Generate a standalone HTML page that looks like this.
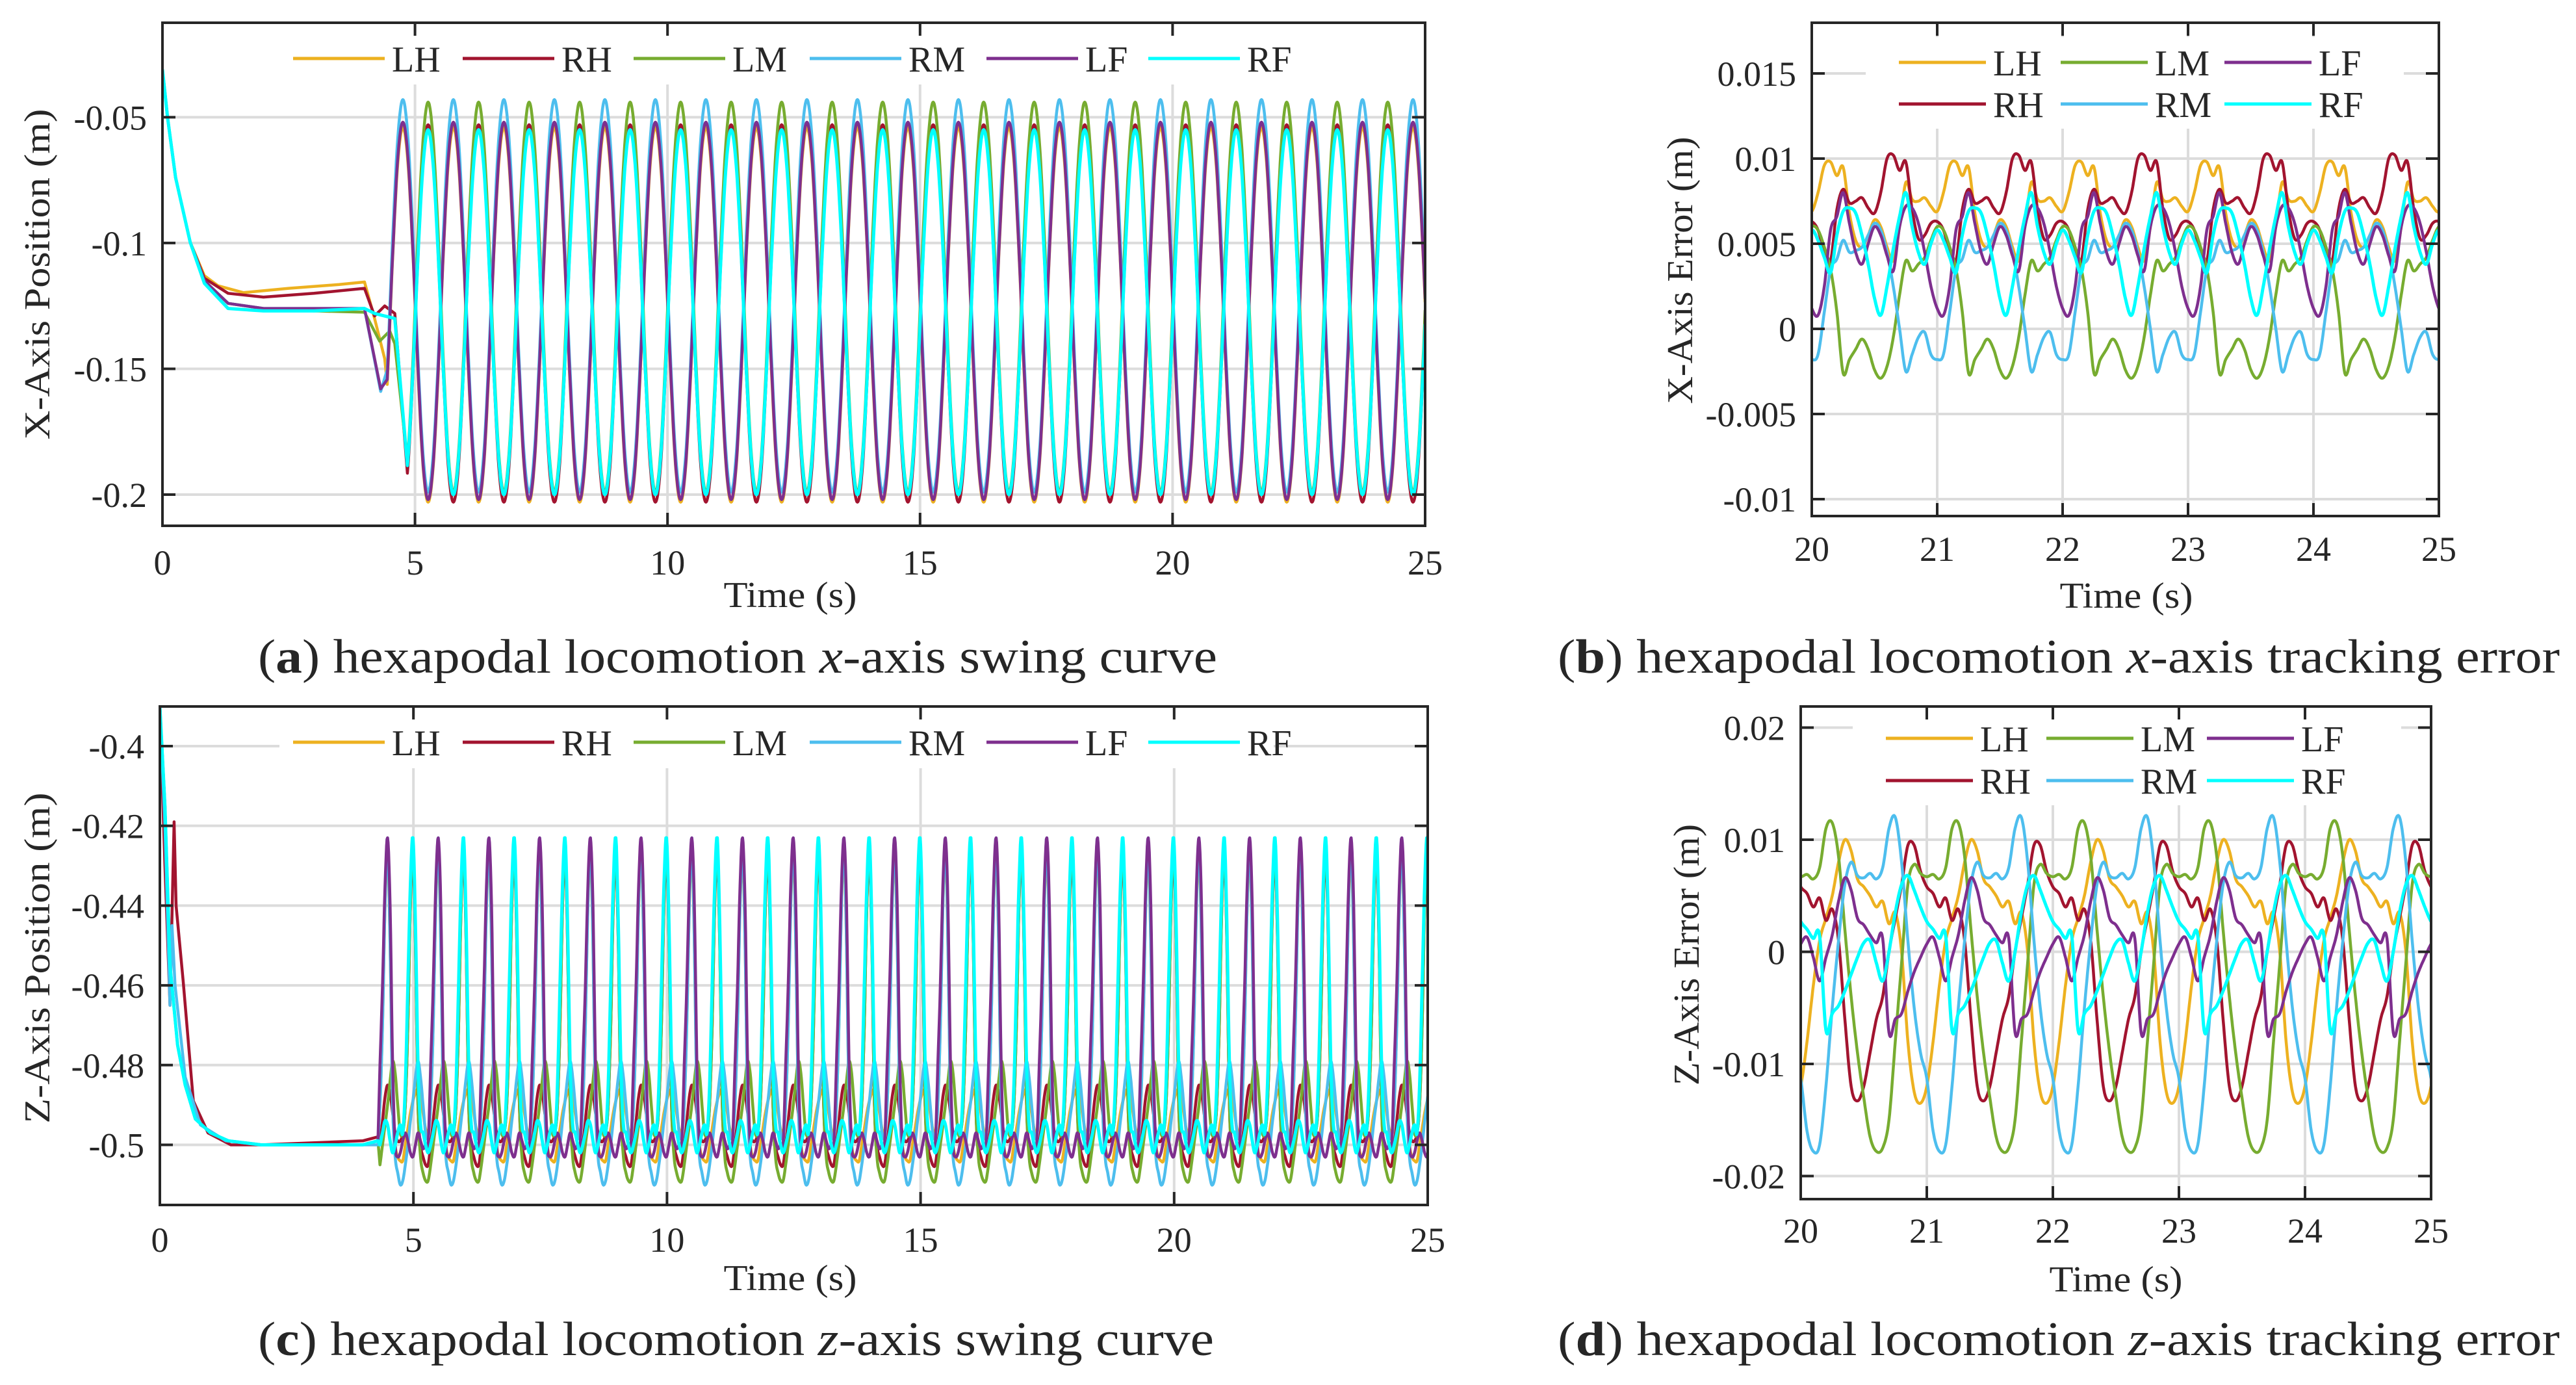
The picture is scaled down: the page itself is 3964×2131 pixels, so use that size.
<!DOCTYPE html>
<html><head><meta charset="utf-8"><title>Hexapod swing curves</title>
<style>html,body{margin:0;padding:0;background:#fff}svg{display:block}text{font-family:"Liberation Serif",serif;fill:#262626}</style>
</head><body>
<svg id="fig" xmlns="http://www.w3.org/2000/svg" width="3964" height="2131" viewBox="0 0 3964 2131">
<rect x="0" y="0" width="3964" height="2131" fill="#fff"/>
<text x="397" y="1035" font-size="74" textLength="1476" lengthAdjust="spacingAndGlyphs">(<tspan font-weight="bold">a</tspan>) hexapodal locomotion <tspan font-style="italic">x</tspan>-axis swing curve</text>
<text x="2397" y="1035" font-size="74" textLength="1542" lengthAdjust="spacingAndGlyphs">(<tspan font-weight="bold">b</tspan>) hexapodal locomotion <tspan font-style="italic">x</tspan>-axis tracking error</text>
<text x="397" y="2085" font-size="74" textLength="1471" lengthAdjust="spacingAndGlyphs">(<tspan font-weight="bold">c</tspan>) hexapodal locomotion <tspan font-style="italic">z</tspan>-axis swing curve</text>
<text x="2397" y="2085" font-size="74" textLength="1542" lengthAdjust="spacingAndGlyphs">(<tspan font-weight="bold">d</tspan>) hexapodal locomotion <tspan font-style="italic">z</tspan>-axis tracking error</text>
</svg>
<script>
// ---------- data ----------
const legs = ['LH','RH','LM','RM','LF','RF'];
const colors = ['#EDB120','#A2142F','#77AC30','#4DBEEE','#7E2F8E','#00FFFF'];

// Panel a: x position. transients [t,v], then periodic cycle (10 samples / 1 s, sample 0 = peak)
const aTickX = [0,5,10,15,20,25];
const aTickY = [-0.05,-0.1,-0.15,-0.2];
const aTickYLabels = ['-0.05','-0.1','-0.15','-0.2'];
const aPeakTime = [0.76,0.26,0.26,0.76,0.76,0.26];
const aStart = [4.45,4.85,4.85,4.45,4.45,4.85];
const aTransLH = [[0,-0.031],[0.1,-0.05],[0.26,-0.074],[0.55,-0.0997],[0.83,-0.113],[1.1,-0.117],[1.6,-0.1197],[2.5,-0.118],[3.5,-0.1165],[4.0,-0.1155],[4.2,-0.13],[4.4,-0.146]];
const aTransRH = [[0,-0.031],[0.1,-0.05],[0.26,-0.074],[0.55,-0.0997],[0.83,-0.114],[1.3,-0.12],[2.0,-0.1215],[3.0,-0.12],[4.0,-0.118],[4.2,-0.129],[4.4,-0.125],[4.6,-0.128]];
const aTransLM = [[0,-0.031],[0.1,-0.05],[0.26,-0.074],[0.55,-0.0997],[0.83,-0.115],[1.3,-0.124],[2.0,-0.126],[3.0,-0.127],[4.0,-0.1275],[4.3,-0.139],[4.5,-0.135],[4.6,-0.14]];
const aTransRM = [[0,-0.031],[0.1,-0.05],[0.26,-0.074],[0.55,-0.0997],[0.83,-0.115],[1.3,-0.124],[2.0,-0.126],[3.0,-0.126],[4.0,-0.126],[4.32,-0.159]];
const aTransLF = [[0,-0.031],[0.1,-0.05],[0.26,-0.074],[0.55,-0.0997],[0.83,-0.115],[1.3,-0.124],[2.0,-0.126],[3.0,-0.126],[4.0,-0.126],[4.32,-0.158]];
const aTransRF = [[0,-0.031],[0.1,-0.05],[0.26,-0.074],[0.55,-0.0997],[0.83,-0.116],[1.3,-0.126],[2.0,-0.127],[3.0,-0.127],[4.0,-0.126],[4.2,-0.128],[4.4,-0.129],[4.6,-0.13]];
const aCycLH = [-0.054,-0.068,-0.105,-0.152,-0.189,-0.203,-0.189,-0.152,-0.105,-0.068];
const aCycRH = [-0.053,-0.067,-0.105,-0.151,-0.189,-0.203,-0.189,-0.151,-0.105,-0.067];
const aCycLM = [-0.044,-0.059,-0.097,-0.146,-0.184,-0.199,-0.184,-0.146,-0.097,-0.059];
const aCycRM = [-0.043,-0.058,-0.097,-0.146,-0.184,-0.199,-0.184,-0.146,-0.097,-0.058];
const aCycLF = [-0.052,-0.066,-0.104,-0.150,-0.188,-0.202,-0.188,-0.150,-0.104,-0.066];
const aCycRF = [-0.055,-0.069,-0.105,-0.150,-0.186,-0.200,-0.186,-0.150,-0.105,-0.069];

// Panel b: x error, one-period cycles (20 samples / 1 s from t=20)
const bTickX = [20,21,22,23,24,25];
const bTickY = [0.015,0.01,0.005,0,-0.005,-0.01];
const bTickYLabels = ['0.015','0.01','0.005','0','-0.005','-0.01'];
const bCycLH = [0.0069,0.0080,0.0096,0.0098,0.0090,0.0095,0.0068,0.0052,0.0048,0.0055,0.0064,0.0060,0.0048,0.0040,0.0060,0.0086,0.0076,0.0075,0.0077,0.0072];
const bCycRH = [0.0063,0.0058,0.0045,0.0040,0.0070,0.0082,0.0074,0.0075,0.0077,0.0071,0.0068,0.0080,0.0100,0.0102,0.0093,0.0098,0.0070,0.0053,0.0055,0.0062];
const bCycLM = [0.0060,0.0058,0.0048,0.0035,0.0010,-0.0026,-0.0018,-0.0012,-0.0006,-0.0012,-0.0024,-0.0029,-0.0022,-0.0005,0.0020,0.0040,0.0034,0.0038,0.0042,0.0052];
const bCycRM = [-0.0018,-0.0015,0.0010,0.0035,0.0041,0.0052,0.0045,0.0046,0.0048,0.0055,0.0062,0.0058,0.0045,0.0025,0.0000,-0.0025,-0.0015,-0.0005,-0.0002,-0.0015];
const bCycLF = [0.0012,0.0008,0.0025,0.0058,0.0066,0.0080,0.0062,0.0045,0.0038,0.0050,0.0060,0.0055,0.0043,0.0034,0.0060,0.0072,0.0071,0.0062,0.0045,0.0025];
const bCycRF = [0.0058,0.0052,0.0042,0.0033,0.0055,0.0069,0.0071,0.0068,0.0055,0.0038,0.0018,0.0008,0.0025,0.0047,0.0066,0.0080,0.0060,0.0045,0.0038,0.0050];

// Panel c: z position
const cTickX = [0,5,10,15,20,25];
const cTickY = [-0.4,-0.42,-0.44,-0.46,-0.48,-0.5];
const cTickYLabels = ['-0.4','-0.42','-0.44','-0.46','-0.48','-0.5'];
const cPeakTime = [0.49,0.99,0.99,0.49,0.49,0.99];
const cStart = [4.34,4.34,4.34,4.34,4.34,4.34];
const cTransCommon = [[0,-0.39],[0.1,-0.415],[0.2,-0.455],[0.35,-0.475],[0.5,-0.485],[0.7,-0.4935],[1.0,-0.497],[1.35,-0.499],[2,-0.5],[4,-0.5],[4.3,-0.499]];
const cTransRH = [[0,-0.39],[0.1,-0.43],[0.2,-0.465],[0.28,-0.419],[0.32,-0.44],[0.46,-0.459],[0.66,-0.489],[0.95,-0.497],[1.4,-0.5],[2,-0.5],[4,-0.499],[4.3,-0.498]];
const cTransRM = [[0,-0.39],[0.1,-0.42],[0.2,-0.465],[0.24,-0.445],[0.3,-0.46],[0.5,-0.483],[0.8,-0.495],[1.3,-0.499],[2,-0.5],[4,-0.5],[4.3,-0.5]];
const cCycLH = [-0.427,-0.45,-0.49,-0.500,-0.503,-0.504,-0.504,-0.500,-0.496,-0.492,-0.489,-0.487,-0.486,-0.488,-0.492,-0.496,-0.497,-0.49,-0.47,-0.44];
const cCycRH = [-0.427,-0.45,-0.49,-0.500,-0.503,-0.505,-0.505,-0.500,-0.494,-0.488,-0.485,-0.487,-0.492,-0.497,-0.499,-0.499,-0.497,-0.49,-0.47,-0.44];
const cCycLM = [-0.423,-0.45,-0.49,-0.503,-0.507,-0.509,-0.509,-0.505,-0.500,-0.495,-0.490,-0.484,-0.479,-0.482,-0.490,-0.497,-0.497,-0.49,-0.47,-0.44];
const cCycRM = [-0.423,-0.45,-0.49,-0.503,-0.507,-0.510,-0.509,-0.505,-0.500,-0.494,-0.489,-0.483,-0.479,-0.483,-0.490,-0.497,-0.498,-0.49,-0.47,-0.44];
const cCycLF = [-0.423,-0.44,-0.48,-0.500,-0.503,-0.502,-0.499,-0.497,-0.499,-0.502,-0.503,-0.500,-0.497,-0.499,-0.501,-0.500,-0.500,-0.48,-0.46,-0.435];
const cCycRF = [-0.423,-0.445,-0.48,-0.495,-0.497,-0.500,-0.502,-0.500,-0.497,-0.494,-0.495,-0.499,-0.502,-0.500,-0.497,-0.495,-0.497,-0.485,-0.46,-0.435];

// Panel d: z error cycles (20 samples / 1 s from t=20)
const dTickX = [20,21,22,23,24,25];
const dTickY = [0.02,0.01,0,-0.01,-0.02];
const dTickYLabels = ['0.02','0.01','0','-0.01','-0.02'];
const dCycLH = [-0.0120,-0.0080,-0.0030,0.0010,0.0030,0.0050,0.0080,0.0100,0.0090,0.0065,0.0058,0.0050,0.0040,0.0045,0.0025,0.0035,0.0000,-0.0080,-0.0125,-0.0135];
const dCycRH = [0.0058,0.0052,0.0040,0.0048,0.0028,0.0038,0.0010,-0.0060,-0.0120,-0.0133,-0.0120,-0.0090,-0.0060,-0.0040,0.0000,0.0030,0.0060,0.0095,0.0095,0.0072];
const dCycLM = [0.0067,0.0069,0.0065,0.0075,0.0110,0.0115,0.0085,0.0020,-0.0040,-0.0090,-0.0130,-0.0165,-0.0178,-0.0175,-0.0150,-0.0080,-0.0010,0.0060,0.0078,0.0070];
const dCycRM = [-0.0113,-0.0160,-0.0178,-0.0172,-0.0120,-0.0050,0.0010,0.0060,0.0080,0.0068,0.0066,0.0070,0.0065,0.0075,0.0110,0.0120,0.0080,0.0010,-0.0050,-0.0090];
const dCycLF = [0.0007,0.0013,-0.0005,-0.0026,-0.0005,0.0015,0.0045,0.0066,0.0055,0.0030,0.0024,0.0015,0.0008,0.0012,-0.0072,-0.0060,-0.0055,-0.0035,-0.0018,-0.0005];
const dCycRF = [0.0027,0.0020,0.0012,0.0014,-0.0070,-0.0055,-0.0048,-0.0035,-0.0020,-0.0005,0.0008,0.0010,-0.0010,-0.0026,0.0000,0.0035,0.0060,0.0068,0.0055,0.0040];

// ---------- drawing ----------
const NS = 'http://www.w3.org/2000/svg';
const svg = document.getElementById('fig');
function el(tag, attrs, parent){
  const e = document.createElementNS(NS, tag);
  for (const k in attrs) e.setAttribute(k, attrs[k]);
  (parent || svg).appendChild(e);
  return e;
}
function cyc(arr, phase){
  const n = arr.length; let f = (((phase % 1) + 1) % 1) * n;
  const i = Math.floor(f); const u = f - i;
  const p0 = arr[(i - 1 + n) % n], p1 = arr[i % n], p2 = arr[(i + 1) % n], p3 = arr[(i + 2) % n];
  return 0.5 * ((2*p1) + (-p0 + p2)*u + (2*p0 - 5*p1 + 4*p2 - p3)*u*u + (-p0 + 3*p1 - 3*p2 + p3)*u*u*u);
}

function panel(cfg){
  const g = el('g', {});
  
  
  const X = t => cfg.x0 + (t - cfg.xmin) / (cfg.xmax - cfg.xmin) * (cfg.x1 - cfg.x0);
  const Y = v => cfg.y1 - (v - cfg.ymin) / (cfg.ymax - cfg.ymin) * (cfg.y1 - cfg.y0);
  const clipId = cfg.name + '-clip';
  const cp = el('clipPath', {id: clipId}, g);
  el('rect', {x: cfg.x0, y: cfg.y0, width: cfg.x1 - cfg.x0, height: cfg.y1 - cfg.y0}, cp);
  cfg.ticksX.forEach(t => {
    const l = el('line', {x1: X(t), x2: X(t), y1: cfg.y0, y2: cfg.y1, stroke: '#dcdcdc', 'stroke-width': 4}, g);
    
    
  });
  cfg.ticksY.forEach(v => {
    const l = el('line', {x1: cfg.x0, x2: cfg.x1, y1: Y(v), y2: Y(v), stroke: '#dcdcdc', 'stroke-width': 4}, g);
    
    
  });
  const sg = el('g', {'clip-path': 'url(#' + clipId + ')'}, g);
  legs.forEach((lg, i) => {
    const pts = cfg.series(i, X, Y);
    const pl = el('polyline', {points: pts.join(' '), fill: 'none', stroke: colors[i], 'stroke-width': lg === 'RF' ? 5 : 4.5, 'stroke-linejoin': 'round'}, sg);
    
    
  });
  const lgG = el('g', {}, g);
  
  
  el('rect', {x: cfg.legBox[0], y: cfg.legBox[1], width: cfg.legBox[2], height: cfg.legBox[3], fill: '#fff'}, lgG);
  cfg.legPos.forEach((p, i) => {
    const e = el('g', {}, lgG);
    
    
    el('line', {x1: p[0], x2: p[0] + cfg.legLen, y1: p[1], y2: p[1], stroke: colors[i], 'stroke-width': 5}, e);
    const tx = el('text', {x: p[0] + cfg.legLen + 11, y: p[1] + 20, 'font-size': 56}, e);
    tx.textContent = legs[i];
  });
  const box = el('rect', {x: cfg.x0, y: cfg.y0, width: cfg.x1 - cfg.x0, height: cfg.y1 - cfg.y0, fill: 'none', stroke: '#262626', 'stroke-width': 4}, g);
  
  
  cfg.ticksX.forEach(t => {
    el('line', {x1: X(t), x2: X(t), y1: cfg.y1, y2: cfg.y1 - 20, stroke: '#262626', 'stroke-width': 4}, g);
    el('line', {x1: X(t), x2: X(t), y1: cfg.y0, y2: cfg.y0 + 20, stroke: '#262626', 'stroke-width': 4}, g);
    const tx = el('text', {x: X(t), y: cfg.xLabelY + 4, 'font-size': 54, 'text-anchor': 'middle'}, g);
    
    
    tx.textContent = String(t);
  });
  cfg.ticksY.forEach((v, k) => {
    el('line', {x1: cfg.x0, x2: cfg.x0 + 20, y1: Y(v), y2: Y(v), stroke: '#262626', 'stroke-width': 4}, g);
    el('line', {x1: cfg.x1, x2: cfg.x1 - 20, y1: Y(v), y2: Y(v), stroke: '#262626', 'stroke-width': 4}, g);
    const tx = el('text', {x: cfg.x0 - 24, y: Y(v) + 19, 'font-size': 54, 'text-anchor': 'end'}, g);
    
    
    tx.textContent = cfg.yLabels[k];
  });
  const xt = el('text', {x: cfg.xTitle[0], y: cfg.xTitle[1], 'font-size': 56, 'text-anchor': 'middle', textLength: 205, lengthAdjust: 'spacingAndGlyphs'}, g);
  
  
  xt.textContent = 'Time (s)';
  const yt = el('text', {x: 0, y: 0, 'font-size': 56, 'text-anchor': 'middle', textLength: cfg.yTitle[3], lengthAdjust: 'spacingAndGlyphs', transform: 'translate(' + cfg.yTitle[0] + ',' + cfg.yTitle[1] + ') rotate(-90)'}, g);
  
  
  yt.textContent = cfg.yTitle[2];
}

function posSeries(trans, cycle, peakT, tStart){
  return function(X, Y){
    const pts = [];
    trans.forEach(p => { if (p[0] < tStart) pts.push(X(p[0]).toFixed(1) + ',' + Y(p[1]).toFixed(1)); });
    for (let t = tStart; t <= 25.0001; t += 0.01) pts.push(X(t).toFixed(1) + ',' + Y(cyc(cycle, t - peakT)).toFixed(1));
    return pts;
  };
}
function errSeries(cycle){
  return function(X, Y){
    const pts = [];
    for (let t = 20; t <= 25.0001; t += 0.005) pts.push(X(t).toFixed(1) + ',' + Y(cyc(cycle, t - 20)).toFixed(1));
    return pts;
  };
}

const aTrans = [aTransLH, aTransRH, aTransLM, aTransRM, aTransLF, aTransRF];
const aCyc = [aCycLH, aCycRH, aCycLM, aCycRM, aCycLF, aCycRF];
const bCyc = [bCycLH, bCycRH, bCycLM, bCycRM, bCycLF, bCycRF];
const cTrans = [cTransCommon, cTransRH, cTransCommon, cTransRM, cTransCommon, cTransCommon];
const cCyc = [cCycLH, cCycRH, cCycLM, cCycRM, cCycLF, cCycRF];
const dCyc = [dCycLH, dCycRH, dCycLM, dCycRM, dCycLF, dCycRF];

const wideLeg = y => [[451,y],[712,y],[975,y],[1246,y],[1518,y],[1767,y]];

panel({name: 'panel-a-x-position', x0: 250, x1: 2193, y0: 35, y1: 809, xmin: 0, xmax: 25, ymin: -0.2124, ymax: -0.01244,
  ticksX: aTickX, ticksY: aTickY, yLabels: aTickYLabels, xLabelY: 880, xTitle: [1216, 934], yTitle: [76, 422, 'X-Axis Position (m)', 509],
  series: (i, X, Y) => posSeries(aTrans[i], aCyc[i], aPeakTime[i], aStart[i])(X, Y),
  legBox: [430, 50, 1530, 80], legPos: wideLeg(90), legLen: 141});
panel({name: 'panel-b-x-error', x0: 2788, x1: 3753, y0: 35, y1: 794, xmin: 20, xmax: 25, ymin: -0.010992, ymax: 0.017977,
  ticksX: bTickX, ticksY: bTickY, yLabels: bTickYLabels, xLabelY: 859, xTitle: [3272, 935], yTitle: [2604, 416, 'X-Axis Error (m)', 411],
  series: (i, X, Y) => errSeries(bCyc[i])(X, Y),
  legBox: [2871, 57, 828, 141], legPos: [[2922,96],[2922,160],[3171,96],[3171,160],[3423,96],[3423,160]], legLen: 134});
panel({name: 'panel-c-z-position', x0: 246, x1: 2197, y0: 1087, y1: 1854, xmin: 0, xmax: 25, ymin: -0.51508, ymax: -0.39006,
  ticksX: cTickX, ticksY: cTickY, yLabels: cTickYLabels, xLabelY: 1922, xTitle: [1216, 1985], yTitle: [76, 1474, 'Z-Axis Position (m)', 509],
  series: (i, X, Y) => posSeries(cTrans[i], cCyc[i], cPeakTime[i], cStart[i])(X, Y),
  legBox: [430, 1102, 1530, 80], legPos: wideLeg(1142), legLen: 141});
panel({name: 'panel-d-z-error', x0: 2771, x1: 3741, y0: 1087, y1: 1845, xmin: 20, xmax: 25, ymin: -0.022058, ymax: 0.021884,
  ticksX: dTickX, ticksY: dTickY, yLabels: dTickYLabels, xLabelY: 1908, xTitle: [3256, 1987], yTitle: [2614, 1469, 'Z-Axis Error (m)', 402],
  series: (i, X, Y) => errSeries(dCyc[i])(X, Y),
  legBox: [2851, 1095, 844, 144], legPos: [[2902,1136],[2902,1201],[3149,1136],[3149,1201],[3396,1136],[3396,1201]], legLen: 134});
</script>
</body></html>
